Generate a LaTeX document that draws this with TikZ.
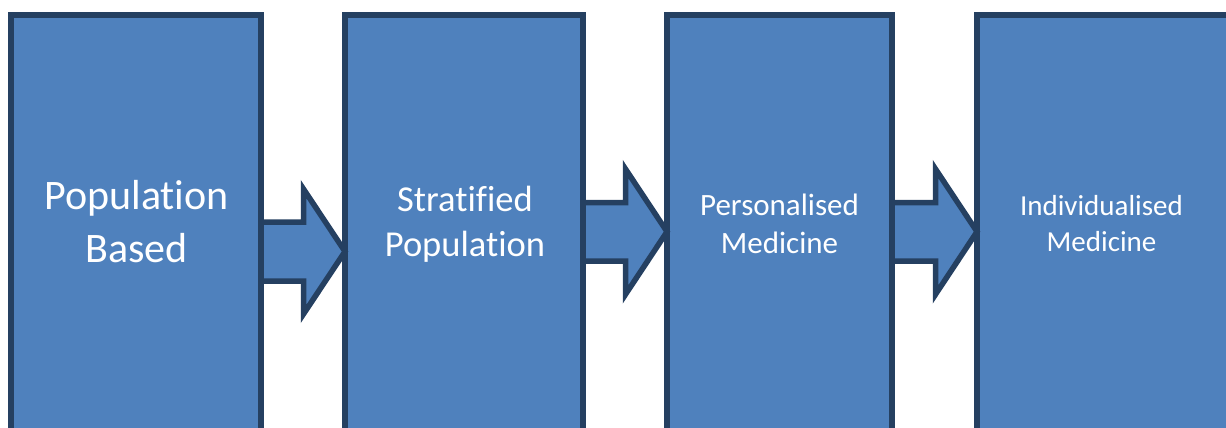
\documentclass[tikz,border=0pt]{standalone}
\usepackage{fontspec}
\setmainfont[Ligatures=NoCommon]{Carlito}
\definecolor{boxfill}{RGB}{79,129,189}
\definecolor{boxline}{RGB}{37,64,97}
\tikzset{
  stagebox/.style={draw=boxline, fill=boxfill, line width=6pt, rectangle, inner sep=0pt, outer sep=0pt, anchor=north west},
  blockarrow/.style={draw=boxline, fill=boxfill, line width=5.5pt, line join=miter},
  lbl/.style={text=white, anchor=base, inner sep=0pt},
}
\begin{document}
\begin{tikzpicture}[x=1pt,y=-1pt]
\useasboundingbox (0,0) rectangle (1226,428);
\clip (0,0) rectangle (1226,428);
% boxes
\node[stagebox, minimum width=250pt, minimum height=440pt] (b1) at (11,15) {};
\node[stagebox, minimum width=238pt, minimum height=440pt] (b2) at (345,15) {};
\node[stagebox, minimum width=225pt, minimum height=440pt] (b3) at (667,15) {};
\node[stagebox, minimum width=260pt, minimum height=440pt] (b4) at (977,15) {};
% arrows
\draw[blockarrow] (b1.north east |- 0,222) -- (303.5,222) -- (303.5,189)
  -- (b2.north west |- 0,251.5) -- (303.5,314) -- (303.5,281) -- (b1.north east |- 0,281) -- cycle;
\draw[blockarrow] (b2.north east |- 0,202.5) -- (625.5,202.5) -- (625.5,169)
  -- (b3.north west |- 0,231.7) -- (625.5,294.4) -- (625.5,261) -- (b2.north east |- 0,261) -- cycle;
\draw[blockarrow] (b3.north east |- 0,202.5) -- (935.5,202.5) -- (935.5,169)
  -- (b4.north west |- 0,231.7) -- (935.5,294.4) -- (935.5,261) -- (b3.north east |- 0,261) -- cycle;
% labels
\node[lbl, font=\fontsize{42}{50}\selectfont] (t1a) at (136.5,209.3) {Population};
\node[lbl, font=\fontsize{42}{50}\selectfont] (t1b) at (136.5,262.3) {Based};
\node[lbl, font=\fontsize{36.5}{44}\selectfont] (t2a) at (465,211.7) {Stratified};
\node[lbl, font=\fontsize{36.5}{44}\selectfont] (t2b) at (465,256) {Population};
\node[lbl, font=\fontsize{31}{38}\selectfont] (t3a) at (779.5,215) {Personalised};
\node[lbl, font=\fontsize{31}{38}\selectfont] (t3b) at (779.5,253.3) {Medicine};
\node[lbl, font=\fontsize{29}{36}\selectfont] (t4a) at (1101.5,215) {Individualised};
\node[lbl, font=\fontsize{29}{36}\selectfont] (t4b) at (1101.5,251) {Medicine};
\end{tikzpicture}
\end{document}
